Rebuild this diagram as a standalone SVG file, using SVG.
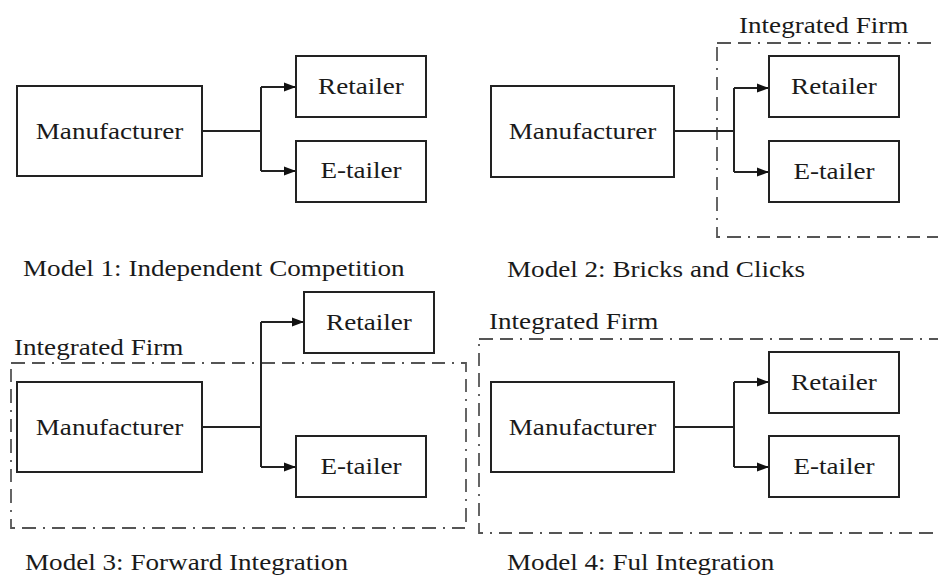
<svg xmlns="http://www.w3.org/2000/svg" width="938" height="576" viewBox="0 0 938 576">
<style>
.box{fill:#fff;stroke:#222;stroke-width:2}
.t{font-family:'Liberation Serif',serif;font-size:24px;fill:#1a1a1a}
.c{text-anchor:middle}
.ln{fill:none;stroke:#222;stroke-width:2}
.firm{fill:none;stroke:#555;stroke-width:1.8;stroke-dasharray:14 7 13 7 2 7}
</style>
<defs>
<marker id="ah" viewBox="0 0 12 10" refX="12" refY="5" markerWidth="12" markerHeight="10" markerUnits="userSpaceOnUse" orient="auto">
<path d="M0,0.5 L12,5 L0,9.5 Z" fill="#111"/>
</marker>
</defs>
<rect width="938" height="576" fill="#fff"/>

<g id="firms">
<rect class="firm" x="717" y="43" width="240" height="194"/>
<rect class="firm" x="11" y="363" width="455" height="165"/>
<rect class="firm" x="479" y="339" width="480" height="194"/>
</g>

<g id="labels">
<text class="t" transform="translate(739,33) scale(1.13,1)">Integrated Firm</text>
<text class="t" transform="translate(14,355) scale(1.13,1)">Integrated Firm</text>
<text class="t" transform="translate(489,329) scale(1.13,1)">Integrated Firm</text>
<text class="t" transform="translate(23,276) scale(1.13,1)">Model 1: Independent Competition</text>
<text class="t" transform="translate(507,277) scale(1.13,1)">Model 2: Bricks and Clicks</text>
<text class="t" transform="translate(25,570) scale(1.13,1)">Model 3: Forward Integration</text>
<text class="t" transform="translate(507,570) scale(1.13,1)">Model 4: Ful Integration</text>
</g>

<g id="connectors">
<path class="ln" d="M202,131 H261 M261,87 V171"/>
<path class="ln" d="M261,87 H296" marker-end="url(#ah)"/>
<path class="ln" d="M261,171 H296" marker-end="url(#ah)"/>

<path class="ln" d="M674,131 H734 M734,88 V172"/>
<path class="ln" d="M734,88 H769" marker-end="url(#ah)"/>
<path class="ln" d="M734,172 H769" marker-end="url(#ah)"/>

<path class="ln" d="M202,427 H261 M261,322 V467"/>
<path class="ln" d="M261,322 H304" marker-end="url(#ah)"/>
<path class="ln" d="M261,467 H296" marker-end="url(#ah)"/>

<path class="ln" d="M674,427 H734 M734,382 V467"/>
<path class="ln" d="M734,382 H769" marker-end="url(#ah)"/>
<path class="ln" d="M734,467 H769" marker-end="url(#ah)"/>
</g>

<g id="m1-manufacturer"><rect class="box" x="17" y="86" width="185" height="90"/><text class="t c" transform="translate(109.5,139) scale(1.13,1)">Manufacturer</text></g>
<g id="m1-retailer"><rect class="box" x="296" y="56" width="130" height="61"/><text class="t c" transform="translate(361,94) scale(1.13,1)">Retailer</text></g>
<g id="m1-etailer"><rect class="box" x="296" y="141" width="130" height="61"/><text class="t c" transform="translate(361,178) scale(1.13,1)">E-tailer</text></g>

<g id="m2-manufacturer"><rect class="box" x="491" y="86" width="183" height="91"/><text class="t c" transform="translate(582.5,139) scale(1.13,1)">Manufacturer</text></g>
<g id="m2-retailer"><rect class="box" x="769" y="56" width="130" height="61"/><text class="t c" transform="translate(834,94) scale(1.13,1)">Retailer</text></g>
<g id="m2-etailer"><rect class="box" x="769" y="141" width="130" height="61"/><text class="t c" transform="translate(834,179) scale(1.13,1)">E-tailer</text></g>

<g id="m3-manufacturer"><rect class="box" x="17" y="382" width="185" height="90"/><text class="t c" transform="translate(109.5,435) scale(1.13,1)">Manufacturer</text></g>
<g id="m3-retailer"><rect class="box" x="304" y="292" width="130" height="61"/><text class="t c" transform="translate(369,330) scale(1.13,1)">Retailer</text></g>
<g id="m3-etailer"><rect class="box" x="296" y="436" width="130" height="61"/><text class="t c" transform="translate(361,474) scale(1.13,1)">E-tailer</text></g>

<g id="m4-manufacturer"><rect class="box" x="491" y="382" width="183" height="90"/><text class="t c" transform="translate(582.5,435) scale(1.13,1)">Manufacturer</text></g>
<g id="m4-retailer"><rect class="box" x="769" y="352" width="130" height="61"/><text class="t c" transform="translate(834,390) scale(1.13,1)">Retailer</text></g>
<g id="m4-etailer"><rect class="box" x="769" y="436" width="130" height="61"/><text class="t c" transform="translate(834,474) scale(1.13,1)">E-tailer</text></g>
</svg>
